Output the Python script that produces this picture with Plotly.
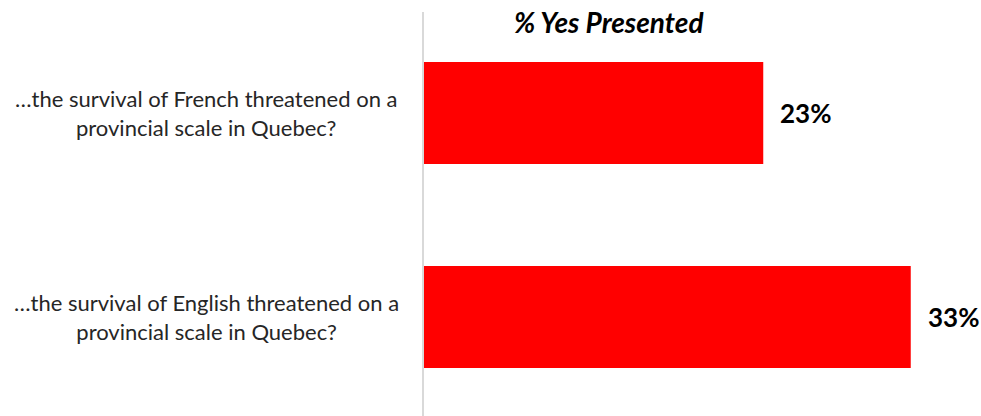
import plotly.graph_objects as go

categories = [
    "…the survival of French threatened on a<br>provincial scale in Quebec?",
    "…the survival of English threatened on a<br>provincial scale in Quebec?",
]
values = [23, 33]
value_labels = ["23%", "33%"]
title_text = "% Yes Presented"

FONT = "Lato, 'Open Sans', sans-serif"
W, H = 981, 416
ML, MR, MT, MB = 424, 0, 12, 0
plot_w = W - ML - MR
px_per_unit = 14.75
xmax = plot_w / px_per_unit

fig = go.Figure()
fig.add_trace(go.Bar(
    y=list(range(len(categories))), x=values, orientation="h",
    marker=dict(color="#FF0000", line=dict(width=0)),
    width=0.5, hoverinfo="skip",
))

annotations = []
for i, (cat, v, lab) in enumerate(zip(categories, values, value_labels)):
    annotations.append(dict(
        x=v, y=i, xref="x", yref="y", text=f"<b>{lab}</b>",
        showarrow=False, xanchor="left", yanchor="middle", xshift=15,
        font=dict(family=FONT, size=26, color="#000000"),
    ))
    annotations.append(dict(
        x=(206 - ML) / plot_w, y=i, xref="paper", yref="y", text=cat,
        showarrow=False, xanchor="center", yanchor="middle", align="center",
        font=dict(family=FONT, size=22, color="#262626"),
    ))
annotations.append(dict(
    x=(609 - ML) / plot_w, y=1 - (22 - MT) / (H - MT - MB), xref="paper", yref="paper",
    text=f"<b><i>{title_text}</i></b>", showarrow=False,
    xanchor="center", yanchor="middle",
    font=dict(family=FONT, size=28, color="#000000"),
))

fig.update_layout(
    width=W, height=H,
    margin=dict(l=ML, r=MR, t=MT, b=MB, pad=0),
    paper_bgcolor="white", plot_bgcolor="white",
    showlegend=False,
    xaxis=dict(range=[0, xmax], visible=False, fixedrange=True),
    yaxis=dict(range=[1.485, -0.495], showticklabels=False, ticks="",
               showgrid=False, zeroline=False, fixedrange=True,
               showline=True, linecolor="#D9D9D9", linewidth=2),
    annotations=annotations,
)

fig.write_html("out.html", config={"displayModeBar": False})
